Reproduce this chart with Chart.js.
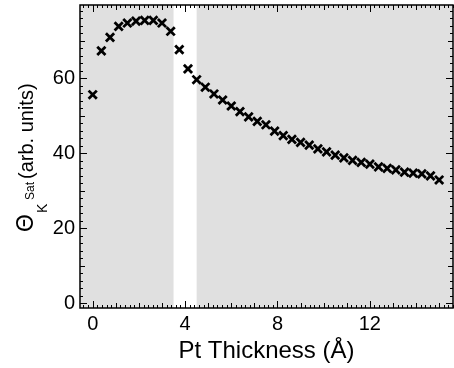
<!DOCTYPE html>
<html>
<head>
<meta charset="utf-8">
<script src="https://cdn.jsdelivr.net/npm/chart.js@4/dist/chart.umd.min.js"></script>
<style>
  html, body { margin: 0; padding: 0; background: #ffffff; }
  canvas { display: block; }
</style>
</head>
<body>
<canvas id="c" width="454" height="368"></canvas>
<script>
// ---- data ----
const thickness = [0, 0.375, 0.75, 1.125, 1.5, 1.875, 2.25, 2.625, 3, 3.375, 3.75, 4.125, 4.5, 4.875,
  5.25, 5.625, 6, 6.375, 6.75, 7.125, 7.5, 7.875, 8.25, 8.625, 9, 9.375, 9.75, 10.125, 10.5, 10.875,
  11.25, 11.625, 12, 12.375, 12.75, 13.125, 13.5, 13.875, 14.25, 14.625, 15];
const thetaSat = [55.6, 67.3, 70.9, 73.8, 74.7, 75.2, 75.4, 75.4, 74.7, 72.5, 67.6, 62.5, 59.6, 57.6,
  55.8, 54.2, 52.6, 51.1, 49.7, 48.5, 47.6, 45.9, 44.7, 43.7, 42.9, 42.2, 41.2, 40.4, 39.5, 38.8,
  38.1, 37.6, 37.1, 36.4, 36.0, 35.6, 35.0, 34.7, 34.5, 34.0, 32.9];
const xTicks = [0, 4, 8, 12];
const yTicks = [0, 20, 40, 60];
const whiteBand = [3.5, 4.5];
const xRange = [-0.55, 15.6];
const yRange = [-1.2, 79.5];

const FONT = "'Liberation Sans', Arial, Helvetica, sans-serif";

const points = thickness.map((x, i) => ({ x: x, y: thetaSat[i] }));

const framePlugin = {
  id: 'frame',
  beforeDatasetsDraw(chart) {
    const { ctx, chartArea: a, scales: { x } } = chart;
    ctx.save();
    ctx.fillStyle = '#e0e0e0';
    ctx.fillRect(a.left, a.top, a.right - a.left, a.bottom - a.top);
    ctx.fillStyle = '#ffffff';
    const b0 = x.getPixelForValue(whiteBand[0]);
    const b1 = x.getPixelForValue(whiteBand[1]);
    ctx.fillRect(b0, a.top, b1 - b0, a.bottom - a.top);
    ctx.restore();
  },
  afterDraw(chart) {
    const { ctx, chartArea: a, scales: { x, y } } = chart;
    ctx.save();
    ctx.strokeStyle = '#000';
    ctx.lineWidth = 1;
    const xs = Math.ceil(x.min / 0.2);
    for (let k = xs; k * 0.2 <= x.max + 1e-9; k++) {
      const v = Math.round(k * 0.2 * 1000) / 1000;
      const px = Math.round(x.getPixelForValue(v)) + 0.5;
      let len = 3;
      if (Math.abs(v % 4) < 1e-6) len = 7;
      else if (Math.abs(v - Math.round(v)) < 1e-6) len = 5;
      ctx.beginPath();
      ctx.moveTo(px, a.bottom); ctx.lineTo(px, a.bottom - len);
      ctx.moveTo(px, a.top); ctx.lineTo(px, a.top + len);
      ctx.stroke();
    }
    const ys = Math.ceil(y.min / 2);
    for (let k = ys; k * 2 <= y.max; k++) {
      const v = k * 2;
      const py = Math.round(y.getPixelForValue(v)) + 0.5;
      let len = 3;
      if (v % 20 === 0) len = 7;
      else if (v % 10 === 0) len = 5;
      ctx.beginPath();
      ctx.moveTo(a.left, py); ctx.lineTo(a.left + len, py);
      ctx.moveTo(a.right, py); ctx.lineTo(a.right - len, py);
      ctx.stroke();
    }
    ctx.lineWidth = 1.5;
    ctx.strokeRect(a.left, a.top, a.right - a.left, a.bottom - a.top);

    // y-axis title: Θ_K^Sat (arb. units)
    ctx.fillStyle = '#000';
    ctx.translate(33, 232);
    ctx.rotate(-Math.PI / 2);
    ctx.textBaseline = 'alphabetic';
    ctx.textAlign = 'left';
    ctx.font = '23px ' + FONT;
    ctx.fillText('Θ', 0, 0);
    ctx.font = '14px ' + FONT;
    ctx.fillText('K', 19, 14);
    ctx.font = '12px ' + FONT;
    ctx.fillText('Sat', 32, 1);
    ctx.font = '20px ' + FONT;
    ctx.fillText('(arb. units)', 53, 0);
    ctx.restore();
  }
};

new Chart(document.getElementById('c'), {
  type: 'scatter',
  data: {
    datasets: [{
      data: points,
      pointStyle: 'crossRot',
      pointRadius: 5.8,
      pointHoverRadius: 5.8,
      borderColor: '#000',
      backgroundColor: '#000',
      pointBorderWidth: 2.8,
      showLine: false
    }]
  },
  options: {
    responsive: false,
    animation: false,
    events: [],
    layout: { autoPadding: false, padding: { top: 5, right: 1, left: 0, bottom: 0 } },
    plugins: { legend: { display: false }, tooltip: { enabled: false } },
    scales: {
      x: {
        type: 'linear',
        min: xRange[0], max: xRange[1],
        afterBuildTicks: s => { s.ticks = xTicks.map(v => ({ value: v })); },
        afterFit: s => { s.height = 60; s.paddingLeft = 0; s.paddingRight = 0; },
        grid: { display: false, drawTicks: false },
        border: { display: false },
        ticks: { color: '#000', padding: 4, font: { family: FONT, size: 20 }, maxRotation: 0 },
        title: { display: true, text: 'Pt Thickness (Å)', color: '#000',
          font: { family: FONT, size: 24 }, padding: { top: 0, bottom: 2 } }
      },
      y: {
        type: 'linear',
        min: yRange[0], max: yRange[1],
        afterBuildTicks: s => { s.ticks = yTicks.map(v => ({ value: v })); },
        afterFit: s => { s.width = 80; s.paddingTop = 0; s.paddingBottom = 0; },
        grid: { display: false, drawTicks: false },
        border: { display: false },
        ticks: { color: '#000', padding: 5, font: { family: FONT, size: 20 } }
      }
    }
  },
  plugins: [framePlugin]
});
</script>
</body>
</html>
